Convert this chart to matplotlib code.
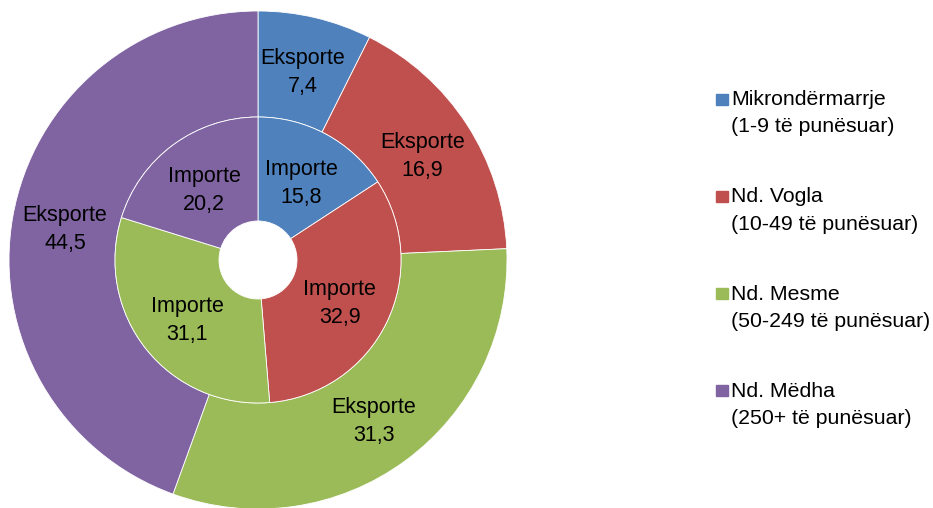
import matplotlib.pyplot as plt
from matplotlib.patches import Rectangle

plt.rcParams['font.family'] = ['Liberation Sans', 'DejaVu Sans']

categories = ['Mikrondërmarrje\n(1-9 të punësuar)',
              'Nd. Vogla\n(10-49 të punësuar)',
              'Nd. Mesme\n(50-249 të punësuar)',
              'Nd. Mëdha\n(250+ të punësuar)']
eksporte = [7.4, 16.9, 31.3, 44.5]
importe = [15.8, 32.9, 31.1, 20.2]
colors = ['#4F81BD', '#C0504D', '#9BBB59', '#8064A2']

W, H = 933, 508
fig = plt.figure(figsize=(W / 100, H / 100), dpi=100)
# square axes holding the doughnut, centre ~ (258, 260) px, radius ~249 px
R = 249
cx, cy = 258, 260
ax = fig.add_axes([(cx - R) / W, (H - cy - R) / H, 2 * R / W, 2 * R / H])

r_mid = 143 / R
r_hole = 39 / R
wedge_style = dict(edgecolor='white', linewidth=0.6)

fmt = lambda v: f'{v:.1f}'.replace('.', ',')

ax.pie(eksporte, radius=1, colors=colors, startangle=90, counterclock=False,
       wedgeprops=dict(width=1 - r_mid, **wedge_style),
       labels=[f'Eksporte\n{fmt(v)}' for v in eksporte],
       labeldistance=(1 + r_mid) / 2,
       textprops=dict(fontsize=15.5, ha='center', va='center', linespacing=1.45))
ax.pie(importe, radius=r_mid, colors=colors, startangle=90, counterclock=False,
       wedgeprops=dict(width=r_mid - r_hole, **wedge_style),
       labels=[f'Importe\n{fmt(v)}' for v in importe],
       labeldistance=(r_mid + r_hole) / 2 / r_mid,
       textprops=dict(fontsize=15.5, ha='center', va='center', linespacing=1.45))
# nudge labels a few px down, matplotlib centres the block slightly high
for t in ax.texts:
    t.set_horizontalalignment('center')
    x, y = t.get_position()
    t.set_position((x, y - 3.5 / R))
ax.set_xlim(-1, 1)
ax.set_ylim(-1, 1)
ax.set_aspect('equal')
ax.axis('off')

# legend drawn by hand so the swatch sits on the first text line
for i, (lab, c) in enumerate(zip(categories, colors)):
    y = 99 + i * 97.3
    fig.patches.append(Rectangle((716 / W, (H - y - 5.5) / H), 12 / W, 11 / H,
                                 color=c, transform=fig.transFigure))
    fig.text(731 / W, (H - y + 9) / H, lab, fontsize=15.3, va='top',
             ha='left', linespacing=1.55)

fig.savefig('out.png', dpi=100)
